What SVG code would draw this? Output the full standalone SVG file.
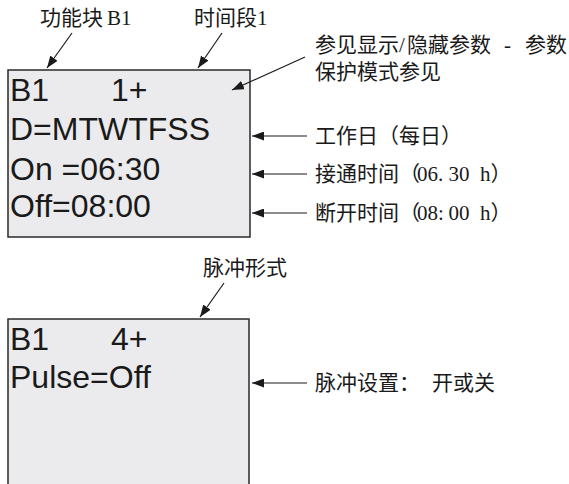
<svg xmlns="http://www.w3.org/2000/svg" width="569" height="484" viewBox="0 0 569 484">
<style>
.box{fill:#ebebed;stroke:#2a2a2a;stroke-width:1.5}
.lcd{font-family:"Liberation Sans",Arial,sans-serif;font-size:32px;fill:#1a1a1a}
.lbl{font-family:"Liberation Serif","Noto Sans CJK SC",serif;font-size:21px;fill:#1a1a1a}
.con line{stroke:#1a1a1a;stroke-width:1.2;marker-end:url(#ah)}
</style>
<defs>
<marker id="ah" viewBox="0 0 12 9" refX="12" refY="4.5" markerWidth="12" markerHeight="9" markerUnits="userSpaceOnUse" orient="auto">
<path d="M0,0 L12,4.5 L0,9 z" fill="#1a1a1a"/>
</marker>
</defs>
<rect width="569" height="484" fill="#ffffff"/>
<g id="display1">
<rect class="box" x="8" y="70" width="242" height="167"/>
<text class="lcd" x="10" y="101">B1</text>
<text class="lcd" x="111" y="101">1+</text>
<text class="lcd" x="10" y="140">D=MTWTFSS</text>
<text class="lcd" x="10" y="180">On =06:30</text>
<text class="lcd" x="10" y="217">Off=08:00</text>
</g>
<g id="display2">
<rect class="box" x="8" y="319" width="241" height="200"/>
<text class="lcd" x="10" y="350">B1</text>
<text class="lcd" x="111" y="350">4+</text>
<text class="lcd" x="10" y="388">Pulse=Off</text>
</g>
<g id="label-block"><text class="lbl" x="40" y="25">功能块<tspan x="107">B1</tspan></text></g>
<g id="label-segment"><text class="lbl" x="194" y="25">时间段1</text></g>
<g id="label-hide"><text class="lbl" x="315" y="52">参见显示<tspan x="399">/</tspan><tspan x="407">隐藏参数</tspan><tspan x="504">-</tspan><tspan x="525">参数</tspan></text>
<text class="lbl" x="315" y="79">保护模式参见</text></g>
<g id="label-day"><text class="lbl" x="315" y="143">工作日（每日）</text></g>
<g id="label-on"><text class="lbl" x="315" y="181">接通时间（<tspan x="417 427.5 438 448.5 459 469.5 480">06.30 h</tspan><tspan x="490.5">）</tspan></text></g>
<g id="label-off"><text class="lbl" x="315" y="220">断开时间（<tspan x="417 427.5 438 448.5 459 469.5 480">08:00 h</tspan><tspan x="490.5">）</tspan></text></g>
<g id="label-pulseform"><text class="lbl" x="203" y="275">脉冲形式</text></g>
<g id="label-pulse"><text class="lbl" x="315" y="390">脉冲设置：<tspan x="432">开或关</tspan></text></g>
<g id="connectors" class="con">
<line x1="72" y1="33" x2="47" y2="68"/>
<line x1="222" y1="33" x2="198" y2="68"/>
<line x1="305" y1="57" x2="232" y2="90"/>
<line x1="307" y1="136" x2="252" y2="136"/>
<line x1="307" y1="174" x2="252" y2="174"/>
<line x1="307" y1="213" x2="252" y2="213"/>
<line x1="224" y1="283" x2="200" y2="317"/>
<line x1="307" y1="383" x2="252" y2="383"/>
</g>
</svg>
